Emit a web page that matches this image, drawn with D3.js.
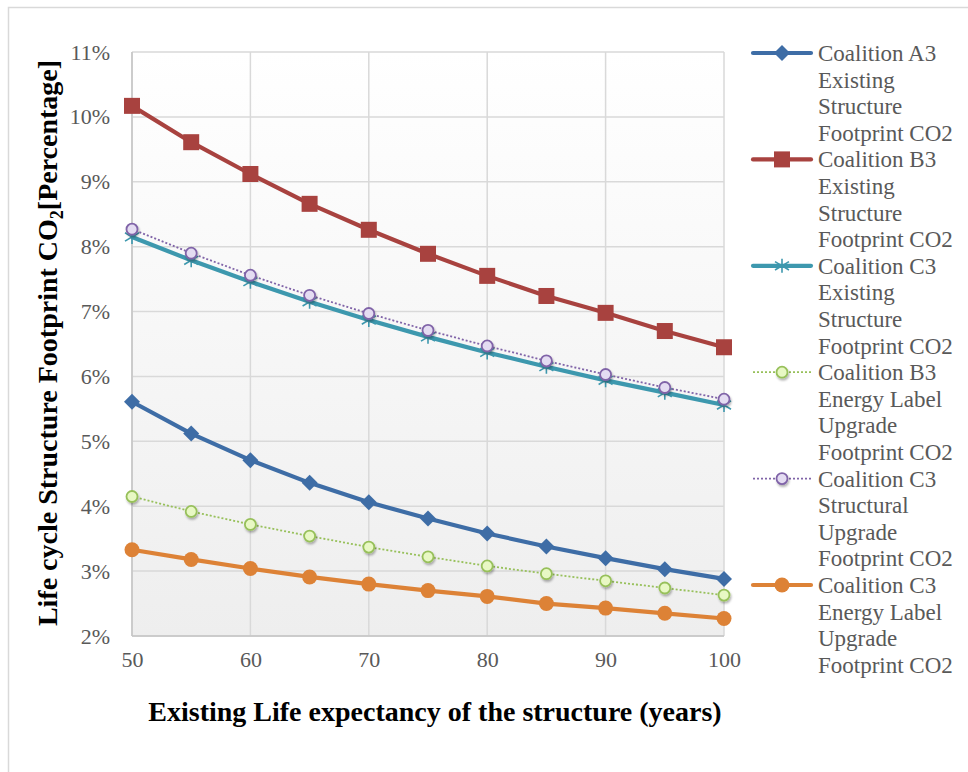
<!DOCTYPE html>
<html>
<head>
<meta charset="utf-8">
<script src="https://cdn.jsdelivr.net/npm/d3@7"></script>
<style>
  body { margin: 0; background: #fff; }
  svg { display: block; font-family: "Liberation Serif", "Times New Roman", serif; }
</style>
</head>
<body>
<svg id="chart" width="968" height="772"></svg>
<script>
const years = [50, 55, 60, 65, 70, 75, 80, 85, 90, 95, 100]
const a3Existing = [5.61, 5.12, 4.71, 4.36, 4.06, 3.81, 3.58, 3.38, 3.20, 3.03, 2.88]
const b3Existing = [10.17, 9.61, 9.12, 8.66, 8.26, 7.89, 7.55, 7.24, 6.98, 6.70, 6.45]
const c3Existing = [8.15, 7.79, 7.46, 7.15, 6.87, 6.61, 6.37, 6.15, 5.94, 5.75, 5.56]
const b3Energy = [4.15, 3.92, 3.72, 3.54, 3.37, 3.22, 3.08, 2.96, 2.85, 2.74, 2.63]
const c3Structural = [8.27, 7.90, 7.56, 7.25, 6.97, 6.71, 6.47, 6.24, 6.03, 5.83, 5.65]
const c3Energy = [3.33, 3.18, 3.04, 2.91, 2.80, 2.70, 2.61, 2.50, 2.43, 2.35, 2.27]
const yTicks = [2, 3, 4, 5, 6, 7, 8, 9, 10, 11]
const xTicks = [50, 60, 70, 80, 90, 100]

const series = [
  { lines: ['Coalition A3', 'Existing', 'Structure', 'Footprint CO2'], values: a3Existing, color: '#3e6da6', marker: 'diamond', dotted: false },
  { lines: ['Coalition B3', 'Existing', 'Structure', 'Footprint CO2'], values: b3Existing, color: '#a8423f', marker: 'square', dotted: false },
  { lines: ['Coalition C3', 'Existing', 'Structure', 'Footprint CO2'], values: c3Existing, color: '#3d98ae', marker: 'star', dotted: false },
  { lines: ['Coalition B3', 'Energy Label', 'Upgrade', 'Footprint CO2'], values: b3Energy, color: '#97c05a', fill: '#e8f8c4', marker: 'circle', dotted: true },
  { lines: ['Coalition C3', 'Structural', 'Upgrade', 'Footprint CO2'], values: c3Structural, color: '#8064a8', fill: '#e4dcf2', marker: 'circle', dotted: true },
  { lines: ['Coalition C3', 'Energy Label', 'Upgrade', 'Footprint CO2'], values: c3Energy, color: '#dd8236', marker: 'dot', dotted: false }
]

const svg = d3.select('#chart')
const plot = { left: 132, right: 724, top: 52, bottom: 636 }

const x = d3.scaleLinear().domain([50, 100]).range([plot.left, plot.right])
const y = d3.scaleLinear().domain([2, 11]).range([plot.bottom, plot.top])

const defs = svg.append('defs')
const grad = defs.append('linearGradient').attr('id', 'bg').attr('x1', 0).attr('y1', 0).attr('x2', 0).attr('y2', 1)
grad.append('stop').attr('offset', '0%').attr('stop-color', '#ffffff')
grad.append('stop').attr('offset', '100%').attr('stop-color', '#eeeeee')

const shadow = defs.append('filter').attr('id', 'shadow').attr('x', '-50%').attr('y', '-50%').attr('width', '200%').attr('height', '200%')
shadow.append('feDropShadow').attr('dx', 1).attr('dy', 2).attr('stdDeviation', 1.2).attr('flood-color', '#000').attr('flood-opacity', 0.3)

// outer frame
svg.append('rect')
  .attr('x', 8.5).attr('y', 7.5).attr('width', 980).attr('height', 800)
  .attr('fill', 'none').attr('stroke', '#d9d9d9').attr('stroke-width', 1.5)

svg.append('rect')
  .attr('x', plot.left).attr('y', plot.top)
  .attr('width', plot.right - plot.left).attr('height', plot.bottom - plot.top)
  .attr('fill', 'url(#bg)')

// gridlines
svg.append('g')
  .selectAll('line')
  .data(yTicks)
  .join('line')
  .attr('x1', plot.left).attr('x2', plot.right)
  .attr('y1', d => y(d)).attr('y2', d => y(d))
  .attr('stroke', '#d9d9d9').attr('stroke-width', 1.5)

svg.append('g')
  .selectAll('line')
  .data(xTicks)
  .join('line')
  .attr('x1', d => x(d)).attr('x2', d => x(d))
  .attr('y1', plot.top).attr('y2', plot.bottom)
  .attr('stroke', '#d9d9d9').attr('stroke-width', 1.5)

// axis lines
svg.append('line')
  .attr('x1', plot.left).attr('x2', plot.left).attr('y1', plot.top).attr('y2', plot.bottom)
  .attr('stroke', '#c4c4c4').attr('stroke-width', 1.5)
svg.append('line')
  .attr('x1', plot.left).attr('x2', plot.right).attr('y1', plot.bottom).attr('y2', plot.bottom)
  .attr('stroke', '#c4c4c4').attr('stroke-width', 1.5)

// axes
const yAxis = svg.append('g')
  .attr('transform', `translate(${plot.left},0)`)
  .call(d3.axisLeft(y).tickValues(yTicks).tickSize(0).tickPadding(22).tickFormat(d => d + '%'))
const xAxis = svg.append('g')
  .attr('transform', `translate(0,${plot.bottom})`)
  .call(d3.axisBottom(x).tickValues(xTicks).tickSize(0).tickPadding(15))

for (const ax of [yAxis, xAxis]) {
  ax.attr('font-family', null).attr('font-size', null)
  ax.select('.domain').remove()
  ax.selectAll('text')
    .attr('font-size', 22)
    .attr('fill', '#595959')
}

// axis titles
svg.append('text')
  .attr('x', 435).attr('y', 721)
  .attr('text-anchor', 'middle')
  .attr('font-size', 28).attr('font-weight', 'bold').attr('fill', '#000')
  .text('Existing Life expectancy of the structure (years)')

const yTitle = svg.append('text')
  .attr('transform', `translate(57,343) rotate(-90)`)
  .attr('text-anchor', 'middle')
  .attr('font-size', 28).attr('font-weight', 'bold').attr('fill', '#000')
yTitle.append('tspan').text('Life cycle Structure Footprint CO')
yTitle.append('tspan').attr('font-size', 18).attr('dy', 6).text('2')
yTitle.append('tspan').attr('dy', -6).text('[Percentage]')

function drawMarker(g, s, cx, cy) {
  if (s.marker === 'diamond') {
    g.append('path').attr('d', `M${cx},${cy - 8}L${cx + 8},${cy}L${cx},${cy + 8}L${cx - 8},${cy}Z`).attr('fill', s.color)
  } else if (s.marker === 'square') {
    g.append('rect').attr('x', cx - 8).attr('y', cy - 8).attr('width', 16).attr('height', 16).attr('fill', s.color)
  } else if (s.marker === 'star') {
    const r = 7
    g.append('path')
      .attr('d', `M${cx},${cy - r}L${cx},${cy + r}M${cx - r},${cy - r * 0.6}L${cx + r},${cy + r * 0.6}M${cx - r},${cy + r * 0.6}L${cx + r},${cy - r * 0.6}`)
      .attr('stroke', s.color).attr('stroke-width', 1.6).attr('fill', 'none')
  } else if (s.marker === 'circle') {
    g.append('circle').attr('cx', cx).attr('cy', cy).attr('r', 5.5)
      .attr('fill', s.fill).attr('stroke', s.color).attr('stroke-width', 1.8)
      .attr('filter', 'url(#shadow)')
  } else if (s.marker === 'dot') {
    g.append('circle').attr('cx', cx).attr('cy', cy).attr('r', 7.5).attr('fill', s.color)
  }
}

const line = d3.line().x((d, i) => x(years[i])).y(d => y(d))

series.forEach(s => {
  const g = svg.append('g')
  g.append('path')
    .datum(s.values)
    .attr('d', line)
    .attr('fill', 'none')
    .attr('stroke', s.color)
    .attr('stroke-width', s.dotted ? 1.8 : 4.2)
    .attr('stroke-dasharray', s.dotted ? '2,2' : null)
    .attr('stroke-linejoin', 'round')
  s.values.forEach((v, i) => drawMarker(g, s, x(years[i]), y(v)))
})

// legend
const lineH = 26.6
const legend = svg.append('g')
let row = 0
series.forEach(s => {
  const cy = 53 + row * lineH
  const g = legend.append('g')
  g.append('line')
    .attr('x1', 753).attr('x2', 811).attr('y1', cy).attr('y2', cy)
    .attr('stroke', s.color)
    .attr('stroke-width', s.dotted ? 1.8 : 4.2)
    .attr('stroke-dasharray', s.dotted ? '2,2' : null)
    .attr('stroke-linecap', s.dotted ? 'butt' : 'round')
  drawMarker(g, s, 782, cy)
  s.lines.forEach((t, k) => {
    g.append('text')
      .attr('x', 818).attr('y', cy + k * lineH + 8)
      .attr('font-size', 23).attr('fill', '#595959')
      .text(t)
  })
  row += s.lines.length
})
</script>
</body>
</html>
